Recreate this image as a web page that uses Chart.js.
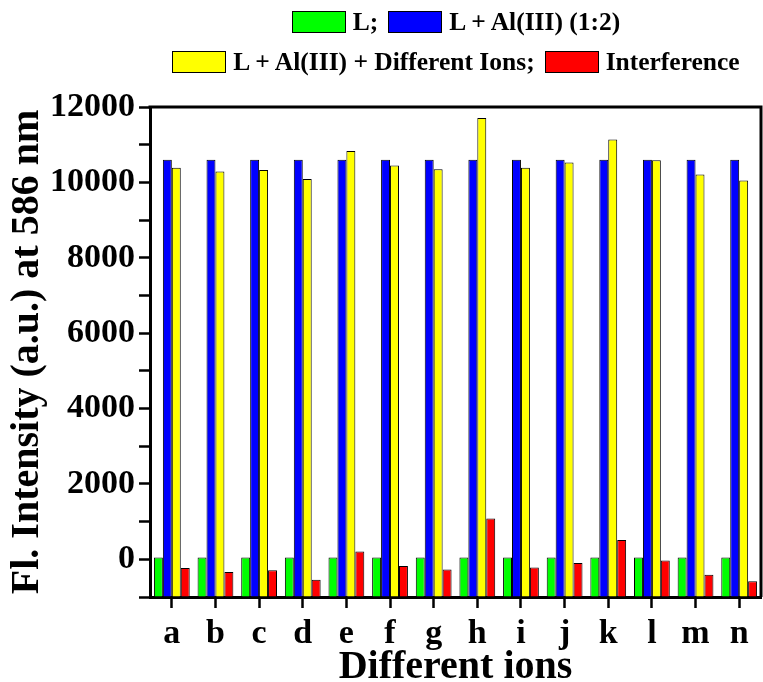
<!DOCTYPE html>
<html>
<head>
<meta charset="utf-8">
<script src="https://cdn.jsdelivr.net/npm/chart.js@4.4.0/dist/chart.umd.min.js"></script>
<style>
  body { margin: 0; background: #fff; }
  #wrap { position: relative; width: 763px; height: 682px; }
  #legend {
    position: absolute; top: 2px; left: 150px; width: 612px;
    font: bold 25.5px "Liberation Serif", "Times New Roman", serif; color: #000;
  }
  .row { display: flex; justify-content: center; align-items: center; height: 40px; }
  .item { display: flex; align-items: center; margin: 0 5px; white-space: nowrap; }
  .box { width: 52px; height: 20px; border: 1px solid #000; margin-right: 7px; }
</style>
</head>
<body>
<div id="wrap">
  <canvas id="grafico"></canvas>
  <div id="legend"></div>
</div>
<script>
// datos
const iones = ['a', 'b', 'c', 'd', 'e', 'f', 'g', 'h', 'i', 'j', 'k', 'l', 'm', 'n'];
const ligando = [50, 50, 50, 50, 50, 50, 50, 50, 50, 50, 50, 50, 50, 50];
const ligandoAl = [10600, 10600, 10600, 10600, 10600, 10600, 10600, 10600, 10600, 10600, 10600, 10600, 10600, 10600];
const conIones = [10390, 10290, 10330, 10090, 10830, 10450, 10350, 11710, 10390, 10530, 11140, 10590, 10210, 10050];
const interferencia = [-230, -340, -290, -540, 210, -180, -270, 1080, -220, -100, 510, -30, -410, -580];
const nombres = ['L;', 'L + Al(III) (1:2)', 'L + Al(III) + Different Ions;', 'Interference'];
const colores = ['#00ff00', '#0000ff', '#ffff00', '#ff0000'];
const filasLeyenda = [[0, 1], [2, 3]];
const yMin = -1000, yMax = 12000, yPaso = 1000;

const fuente = '"Liberation Serif", "Times New Roman", serif';

// marco superior y derecho
const marco = {
  id: 'marco',
  afterDraw(chart) {
    const {ctx, chartArea: a} = chart;
    ctx.save();
    ctx.strokeStyle = '#000';
    ctx.lineWidth = 3;
    ctx.beginPath();
    ctx.moveTo(a.left - 1.5, a.top);
    ctx.lineTo(a.right, a.top);
    ctx.lineTo(a.right, a.bottom);
    ctx.stroke();
    ctx.restore();
  }
};

const series = [ligando, ligandoAl, conIones, interferencia];
const datasets = series.map((valores, i) => ({
  label: nombres[i],
  data: valores,
  backgroundColor: colores[i],
  borderColor: '#000',
  borderWidth: 1,
  base: yMin,
  categoryPercentage: 0.82,
  barPercentage: 1.0
}));

const chart = new Chart(document.getElementById('grafico'), {
  type: 'bar',
  data: { labels: iones, datasets: datasets },
  options: {
    responsive: true,
    maintainAspectRatio: false,
    animation: false,
    layout: { padding: { top: 107, right: 2, left: 0, bottom: 0 } },
    plugins: { legend: { display: false }, tooltip: { enabled: false } },
    scales: {
      x: {
        offset: true,
        grid: { display: true, drawOnChartArea: false, offset: false, tickLength: 11, tickWidth: 2.5, tickColor: '#000' },
        border: { color: '#000', width: 3 },
        ticks: { color: '#000', font: { family: fuente, size: 34, weight: 'bold' }, maxRotation: 0, padding: 6, autoSkip: false },
        title: { display: true, text: 'Different ions', color: '#000', font: { family: fuente, size: 40, weight: 'bold' }, padding: { top: 0, bottom: -10 } },
        afterFit: (s) => { s.height = 85; }
      },
      y: {
        min: yMin,
        max: yMax,
        grid: { display: true, drawOnChartArea: false, tickLength: 11, tickWidth: 2.5, tickColor: '#000' },
        border: { color: '#000', width: 3 },
        ticks: {
          stepSize: yPaso,
          autoSkip: false,
          color: '#000',
          padding: 4,
          font: { family: fuente, size: 34, weight: 'bold' },
          callback: (v) => (v >= 0 && v % 2000 === 0) ? String(v) : ''
        },
        title: { display: true, text: 'Fl. Intensity (a.u.) at 586 nm', color: '#000', font: { family: fuente, size: 40, weight: 'bold' }, padding: { top: 4, bottom: 0 } },
        afterFit: (s) => { s.width = 150; }
      }
    }
  },
  plugins: [marco]
});

// leyenda en html, centrada sobre el area del grafico
const leyenda = document.getElementById('legend');
let template = '';
for (const fila of filasLeyenda) {
  template += '<div class="row">';
  for (const i of fila) {
    const ds = chart.data.datasets[i];
    template += `<div class="item"><span class="box" style="background:${ds.backgroundColor}"></span>${ds.label}</div>`;
  }
  template += '</div>';
}
leyenda.innerHTML = template;
</script>
</body>
</html>
